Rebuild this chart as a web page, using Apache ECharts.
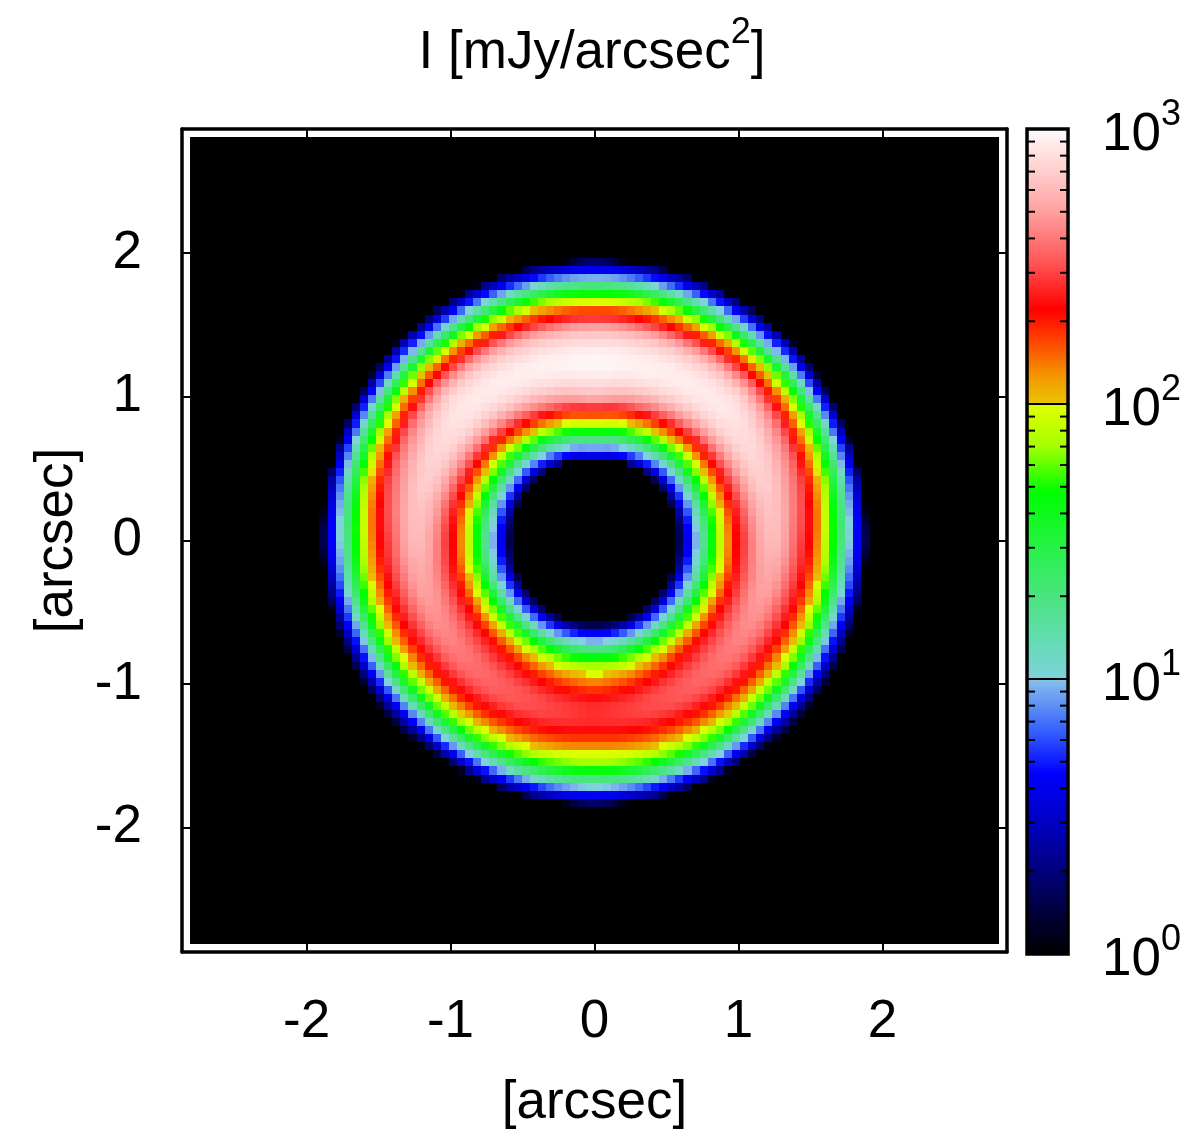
<!DOCTYPE html>
<html><head><meta charset="utf-8">
<script src="https://cdn.jsdelivr.net/npm/echarts@6/dist/echarts.min.js"></script>
<style>html,body{margin:0;padding:0;background:#fff}#c{width:1184px;height:1135px}</style>
</head><body><div id="c"></div>
<script>
// ---- data (log10 of I in mJy/arcsec^2) ----
// sample radii [arcsec] along each direction (pixel centres)
const radii = [0.534,0.590,0.646,0.702,0.759,0.815,0.871,0.927,0.983,1.040,1.096,1.152,1.208,1.264,1.320,1.377,1.433,1.489,1.545,1.601,1.657,1.714,1.770,1.826,1.882,1.939,1.995];
// position angles of the profiles (deg, measured from +x toward +y, mirrored left/right)
const profileAngles = [90, 45, 0, -45, -90];
const logI_up       = [-1,0.62,0.97,1.30,1.68,1.98,2.22,2.47,2.73,2.83,2.90,2.95,2.97,2.97,2.95,2.89,2.82,2.70,2.45,2.22,1.98,1.68,1.30,0.97,0.62,0.25,-1];
const logI_upDiag   = [-1,0.20,0.62,0.97,1.30,1.65,1.92,2.15,2.38,2.60,2.75,2.85,2.91,2.93,2.93,2.90,2.83,2.72,2.55,2.30,2.08,1.80,1.40,1.00,0.62,0.25,-1];
const logI_side     = [-1,0.20,0.60,0.97,1.25,1.65,1.90,2.12,2.34,2.47,2.62,2.72,2.77,2.77,2.70,2.58,2.46,2.34,2.13,1.91,1.68,1.30,1.00,0.64,0.20,-1,-1];
const logI_downDiag = [-1,0.20,0.62,0.97,1.30,1.65,1.90,2.10,2.30,2.42,2.50,2.56,2.58,2.56,2.50,2.40,2.30,2.12,1.95,1.75,1.45,1.10,0.75,0.40,0.10,-1,-1];
const logI_down     = [-1,0.20,0.62,0.97,1.30,1.65,1.85,1.98,2.12,2.25,2.36,2.42,2.43,2.42,2.36,2.25,2.12,1.98,1.85,1.65,1.30,1.00,0.62,0.25,-1,-1,-1];
const profiles = [logI_up, logI_upDiag, logI_side, logI_downDiag, logI_down];

const nPix = 100;          // image pixels per side
const imgHalf = 2.809;     // image half-width [arcsec]
const axisHalf = 2.865;    // axis half-range [arcsec]
const xTicks = [-2,-1,0,1,2];
const yTicks = [-2,-1,0,1,2];
const cbMin = 1, cbMax = 1000;
const cbInnerMajor = [10,100];
const cbMinor = [2,3,4,5,6,7,8,9,20,30,40,50,60,70,80,90,200,300,400,500,600,700,800,900];

// palette (log10 I -> colour), gnuplot-like colour box
const paletteStops = [
 [0.00,'#000000'],[0.12,'#00002c'],[0.30,'#00007a'],[0.50,'#0000c8'],[0.66,'#0000ff'],
 [0.80,'#3058ff'],[0.90,'#5c8cf4'],[0.995,'#84bcec'],[1.00,'#80d2dc'],[1.15,'#62dcb0'],
 [1.30,'#4ae480'],[1.45,'#2cf050'],[1.68,'#00ff00'],[1.85,'#a8ff00'],[1.995,'#e0ff00'],
 [2.00,'#e8c400'],[2.10,'#f49600'],[2.22,'#ff4800'],[2.34,'#ff0000'],[2.50,'#ff5050'],
 [2.68,'#ff9a9a'],[2.82,'#ffc8c8'],[2.92,'#ffe4e4'],[3.00,'#ffffff']];

// ---- helpers ----
function hexRgb(h){return [parseInt(h.slice(1,3),16),parseInt(h.slice(3,5),16),parseInt(h.slice(5,7),16)];}
function paletteAt(v){
  if (v<=paletteStops[0][0]) return paletteStops[0][1];
  for (let k=0;k<paletteStops.length-1;k++){
    const a=paletteStops[k], b=paletteStops[k+1];
    if (v<=b[0]){
      const t=(v-a[0])/(b[0]-a[0]); const ca=hexRgb(a[1]), cb=hexRgb(b[1]);
      return 'rgb('+ca.map((c,i)=>Math.round(c+(cb[i]-c)*t)).join(',')+')';
    }
  }
  return paletteStops[paletteStops.length-1][1];
}
const denseColors=[]; for(let k=0;k<=300;k++) denseColors.push(paletteAt(k/100));

function profileAt(p, r){
  if (r<radii[0] || r>radii[radii.length-1]) return -1;
  for (let k=0;k<radii.length-1;k++){
    if (r<=radii[k+1]){const t=(r-radii[k])/(radii[k+1]-radii[k]); return p[k]+(p[k+1]-p[k])*t;}
  }
  return -1;
}
function sampleMap(x,y){
  const r=Math.hypot(x,y);
  const th=Math.atan2(y,Math.abs(x))*180/Math.PI;
  let k=0; while(k<profileAngles.length-2 && th<profileAngles[k+1]) k++;
  const w=(profileAngles[k]-th)/(profileAngles[k]-profileAngles[k+1]);
  const v=(1-w)*profileAt(profiles[k],r)+w*profileAt(profiles[k+1],r);
  return Math.max(0,Math.min(3,v));
}
const cellSize=2*imgHalf/nPix;
const cells=[];
for(let j=0;j<nPix;j++) for(let i=0;i<nPix;i++){
  const x=-imgHalf+cellSize*(i+0.5), y=-imgHalf+cellSize*(j+0.5);
  cells.push([x,y,sampleMap(x,y)]);
}

const FONT='Liberation Sans, Arial, Helvetica, sans-serif';
const chart=echarts.init(document.getElementById('c'),null,{renderer:'canvas'});
const tickStyle={show:true,inside:true,length:10,lineStyle:{color:'#000',width:2}};
const lineStyle={show:true,onZero:false,lineStyle:{color:'#000',width:3.5}};
const labelStyle={fontFamily:FONT,fontSize:53,color:'#000'};
const supStyle={fontFamily:FONT,fontSize:36,color:'#000',padding:[0,0,40,0]};

const gradStops=paletteStops.map(s=>({offset:1-s[0]/3,color:s[1]})).reverse();

chart.setOption({
  animation:false,
  backgroundColor:'#fff',
  title:{text:'I [mJy/arcsec{s|2}]',left:'center',top:10,
    textStyle:{fontFamily:FONT,fontSize:53,fontWeight:'normal',color:'#000',
      rich:{s:supStyle}}},
  grid:[
    {left:182,top:129,width:825,height:825,containLabel:false},
    {left:1027,top:129,width:42,height:825,containLabel:false}
  ],
  xAxis:[
    {gridIndex:0,type:'value',min:-axisHalf,max:axisHalf,position:'bottom',
     axisLine:lineStyle,axisTick:Object.assign({customValues:xTicks},tickStyle),
     axisLabel:Object.assign({customValues:xTicks,margin:44},labelStyle),splitLine:{show:false},
     name:'[arcsec]',nameLocation:'middle',nameGap:125,nameTextStyle:labelStyle},
    {gridIndex:0,type:'value',min:-axisHalf,max:axisHalf,position:'top',
     axisLine:lineStyle,axisTick:Object.assign({customValues:xTicks},tickStyle),
     axisLabel:{show:false},splitLine:{show:false}},
    {gridIndex:1,type:'value',min:0,max:1,show:false}
  ],
  yAxis:[
    {gridIndex:0,type:'value',min:-axisHalf,max:axisHalf,position:'left',
     axisLine:lineStyle,axisTick:Object.assign({customValues:yTicks},tickStyle),
     axisLabel:Object.assign({customValues:yTicks,margin:40},labelStyle),splitLine:{show:false},
     name:'[arcsec]',nameLocation:'middle',nameGap:80,nameRotate:90,nameTextStyle:labelStyle},
    {gridIndex:0,type:'value',min:-axisHalf,max:axisHalf,position:'right',
     axisLine:lineStyle,axisTick:Object.assign({customValues:yTicks},tickStyle),
     axisLabel:{show:false},splitLine:{show:false}},
    {gridIndex:1,type:'log',logBase:10,min:cbMin,max:cbMax,position:'right',
     axisLine:{show:false},axisTick:{show:false},splitLine:{show:false},
     axisLabel:{margin:34,fontFamily:FONT,fontSize:53,color:'#000',padding:[12,0,0,0],
       formatter:v=>'10{s|'+Math.round(Math.log10(v))+'}',
       rich:{s:supStyle}}}
  ],
  visualMap:{type:'continuous',show:false,seriesIndex:0,dimension:2,min:0,max:3,
    inRange:{color:denseColors},outOfRange:{color:'#000'}},
  series:[
    {type:'custom',xAxisIndex:0,yAxisIndex:0,data:cells,progressive:0,silent:true,
     encode:{x:0,y:1},
     renderItem:(params,api)=>{
       const x=api.value(0),y=api.value(1),h=cellSize/2;
       const p0=api.coord([x-h,y+h]),p1=api.coord([x+h,y-h]);
       const x0=Math.round(p0[0]),y0=Math.round(p0[1]),x1=Math.round(p1[0]),y1=Math.round(p1[1]);
       return {type:'rect',shape:{x:x0,y:y0,width:x1-x0,height:y1-y0},style:{fill:api.visual('color')}};
     }},
    {type:'custom',xAxisIndex:2,yAxisIndex:2,data:[[0,cbMin,cbMax]],silent:true,
     renderItem:(params,api)=>{
       const a=api.coord([0,cbMax]),b=api.coord([1,cbMin]);
       return {type:'rect',shape:{x:a[0],y:a[1],width:b[0]-a[0],height:b[1]-a[1]},
         style:{fill:new echarts.graphic.LinearGradient(0,0,0,1,gradStops),stroke:'#000',lineWidth:3.5}};
     }},
    {type:'custom',xAxisIndex:2,yAxisIndex:2,data:cbMinor.map(v=>[0,v]),silent:true,z:5,
     renderItem:(params,api)=>{
       const v=api.value(1); const a=api.coord([0,v]),b=api.coord([1,v]);
       return {type:'group',children:[
         {type:'line',shape:{x1:a[0],y1:a[1],x2:a[0]+8,y2:a[1]},style:{stroke:'#000',lineWidth:2}},
         {type:'line',shape:{x1:b[0]-8,y1:b[1],x2:b[0],y2:b[1]},style:{stroke:'#000',lineWidth:2}}]};
     }},
    {type:'custom',xAxisIndex:2,yAxisIndex:2,data:cbInnerMajor.map(v=>[0,v]),silent:true,z:5,
     renderItem:(params,api)=>{
       const v=api.value(1); const a=api.coord([0,v]),b=api.coord([1,v]);
       return {type:'line',shape:{x1:a[0],y1:a[1],x2:b[0],y2:b[1]},style:{stroke:'#000',lineWidth:2}};
     }}
  ]
});
</script></body></html>
